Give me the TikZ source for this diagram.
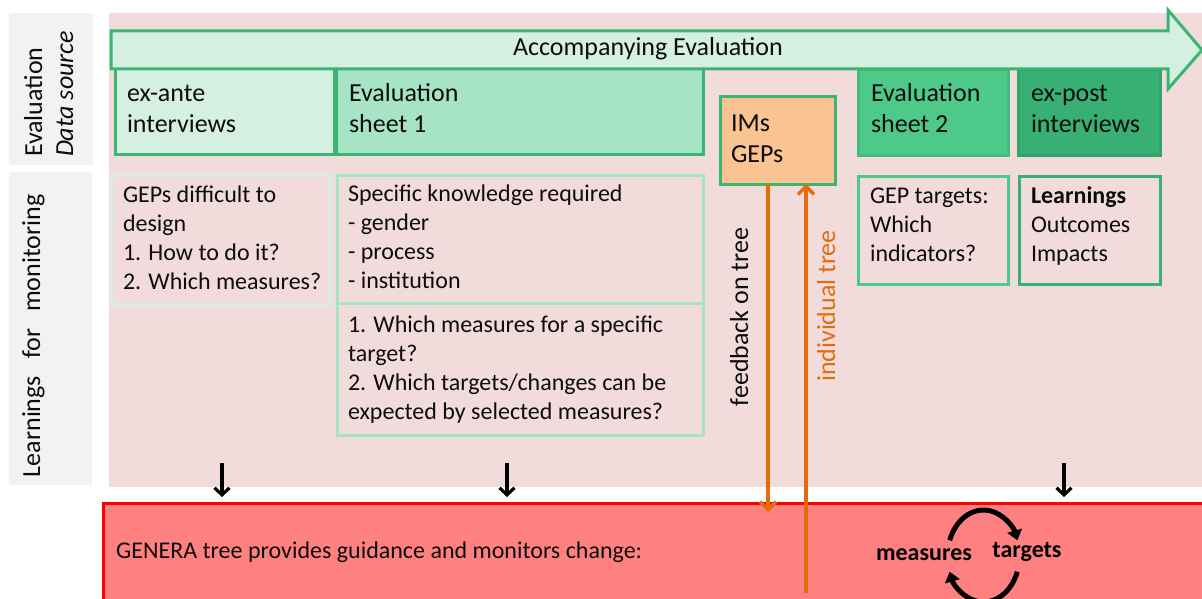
\documentclass[tikz,border=0pt]{standalone}
\usepackage{fontspec}
\setmainfont{Carlito}
\usetikzlibrary{arrows.meta}

\definecolor{pinkbg}{HTML}{F2DCDB}
\definecolor{grayc}{HTML}{F2F2F2}
\definecolor{greenline}{HTML}{3AB572}
\definecolor{palegreen}{HTML}{D5F0E2}
\definecolor{midgreen}{HTML}{A7E3C5}
\definecolor{brightgreen}{HTML}{4DCA8A}
\definecolor{deepgreen}{HTML}{38B073}
\definecolor{peach}{HTML}{F9C392}
\definecolor{orangec}{HTML}{E46C0A}
\definecolor{redfill}{HTML}{FF8080}
\definecolor{redline}{HTML}{FF0000}
\definecolor{txtc}{HTML}{0D0D0D}

\newcommand{\bigfont}{\fontsize{26}{32}\selectfont}
\newcommand{\smallfont}{\fontsize{24}{29}\selectfont}

\tikzset{
  panel/.style={rectangle, inner sep=0pt, outer sep=0pt, draw=none},
  boxn/.style={rectangle, inner sep=0pt, outer sep=0pt, line width=3pt},
  txt/.style={anchor=north west, inner sep=0pt, outer sep=0pt, align=left, text=txtc},
  bigtxt/.style={txt, font=\bigfont},
  smalltxt/.style={txt, font=\smallfont},
  sidelabel/.style={rotate=90, anchor=base west, inner sep=0pt, outer sep=0pt, text=txtc, font=\bigfont},
  orangearrow/.style={draw=orangec, line width=3.5pt, -{Straight Barb[length=8pt,width=16pt]}},
  blackarrow/.style={draw=black, line width=3.2pt, -{Straight Barb[length=7pt,width=15pt]}},
  cyclearrow/.style={draw=black, line width=5pt, -{Triangle[length=10pt,width=15pt]}},
}

\begin{document}
\begin{tikzpicture}[x=1pt, y=-1pt]
\clip (0,0) rectangle (1202,599);
\useasboundingbox (0,0) rectangle (1202,599);
\fill[white] (0,0) rectangle (1202,599);

% background panels
\node[panel, fill=pinkbg, minimum width=1093pt, minimum height=474pt, anchor=north west] (bg) at (109,13) {};
\node[panel, fill=grayc, minimum width=84pt, minimum height=152pt, anchor=north west] (lblbox1) at (9,13) {};
\node[panel, fill=grayc, minimum width=83pt, minimum height=313pt, anchor=north west] (lblbox2) at (9,172) {};

% side labels
\node[sidelabel] (lbleval) at (42,157) {Evaluation};
\node[sidelabel, font=\bigfont\itshape] (lblsrc) at (73,157) {Data source};
\node[sidelabel] (lbllearn) at (40,477) {Learnings\hspace{17pt}for\hspace{17pt}monitoring};

% data sources
\node[boxn, draw=greenline, fill=palegreen, minimum width=219pt, minimum height=86pt] (exante) at (224.5,112) {};
\node[boxn, draw=greenline, fill=midgreen, minimum width=367pt, minimum height=86pt] (sheet1) at (519.5,112) {};
\node[boxn, draw=greenline, fill=peach, minimum width=115pt, minimum height=87pt] (ims) at (777.5,140.5) {};
\node[boxn, draw=brightgreen!92!black, fill=brightgreen, minimum width=150pt, minimum height=86pt] (sheet2) at (933,113) {};
\node[boxn, draw=deepgreen!92!black, fill=deepgreen, minimum width=142pt, minimum height=86pt] (expost) at (1089,113) {};

% timeline arrow
\draw[line width=3pt, draw=greenline, fill=palegreen, line join=miter]
  (111,31) -- (1168,31) -- (1168,10) -- (1202,50) -- (1168,89) -- (1168,69) -- (111,69) -- cycle;
\node[anchor=base, inner sep=0pt, font=\bigfont, text=txtc] (accomp) at (648,56) {Accompanying Evaluation};

\node[bigtxt] (exantetxt) at (127,78.6) {\strut ex-ante\\interviews};
\node[bigtxt] (sheet1txt) at (349,78.6) {\strut Evaluation\\sheet 1};
\node[bigtxt] (imstxt) at (731,108.6) {\strut IMs\\GEPs};
\node[bigtxt] (sheet2txt) at (871,78.6) {\strut Evaluation\\sheet 2};
\node[bigtxt] (exposttxt) at (1031,78.6) {\strut ex-post\\interviews};

% learnings
\node[boxn, draw=palegreen, minimum width=219pt, minimum height=129pt] (gepsdiff) at (220.5,239.5) {};
\node[boxn, draw=midgreen, minimum width=366pt, minimum height=128pt] (knowl) at (520,239) {};
\node[boxn, draw=midgreen, minimum width=366pt, minimum height=132pt] (which) at (520,369) {};
\node[boxn, draw=brightgreen, minimum width=150pt, minimum height=108pt] (geptgt) at (933,230) {};
\node[boxn, draw=deepgreen, minimum width=141pt, minimum height=108pt] (learn) at (1089.5,230) {};

\node[smalltxt] (gepsdifftxt) at (123,181.7) {\strut GEPs difficult to\\design\\1. How to do it?\\2. Which measures?};
\node[smalltxt] (knowltxt) at (348,181.2) {\strut Specific knowledge required\\- gender\\- process\\- institution};
\node[smalltxt] (whichtxt) at (348,311.7) {\strut 1. Which measures for a specific\\target?\\2. Which targets/changes can be\\expected by selected measures?};
\node[smalltxt] (geptgttxt) at (870,183.2) {\strut GEP targets:\\Which\\indicators?};
\node[smalltxt] (learntxt) at (1031,183.2) {\strut\textbf{Learnings}\\Outcomes\\Impacts};

% GENERA tree
\node[boxn, draw=redline, fill=redfill, minimum width=1110pt, minimum height=110pt, anchor=north west] (genera) at (103,503) {};
\node[anchor=base west, inner sep=0pt, font=\smallfont, text=txtc] (generatxt) at (116,558) {GENERA tree provides guidance and monitors change:};
\node[anchor=base, inner sep=0pt, font=\smallfont\bfseries, text=black] (measures) at (924,560) {measures};
\node[anchor=base, inner sep=0pt, font=\smallfont\bfseries, text=black] (targets) at (1027,557) {targets};

% measures / targets cycle
\draw[cyclearrow] (949.7,540.3) arc[start angle=160, end angle=20, x radius=36pt, y radius=46pt];
\draw[cyclearrow] (1017.3,571.7) arc[start angle=-20, end angle=-160, x radius=36pt, y radius=46pt];

% feedback loop between IMs/GEPs and the tree
\coordinate (fbend) at (768,512);
\coordinate (indstart) at (806,593);
\draw[orangearrow] ([xshift=-9.5pt]ims.south) -- (fbend);
\draw[orangearrow] (indstart) -- ([xshift=28.5pt]ims.south);
\node[rotate=90, anchor=base, inner sep=0pt, font=\bigfont, text=txtc] (fbtxt) at (748,317) {feedback on tree};
\node[rotate=90, anchor=base, inner sep=0pt, font=\bigfont, text=orangec] (indtxt) at (835,306) {individual tree};

% inputs into the tree
\coordinate (in1a) at (222,463); \coordinate (in1b) at (222,497);
\coordinate (in2a) at (507,463); \coordinate (in2b) at (507,497);
\coordinate (in3a) at (1064,463); \coordinate (in3b) at (1064,497);
\draw[blackarrow] (in1a) -- (in1b);
\draw[blackarrow] (in2a) -- (in2b);
\draw[blackarrow] (in3a) -- (in3b);
\end{tikzpicture}
\end{document}
